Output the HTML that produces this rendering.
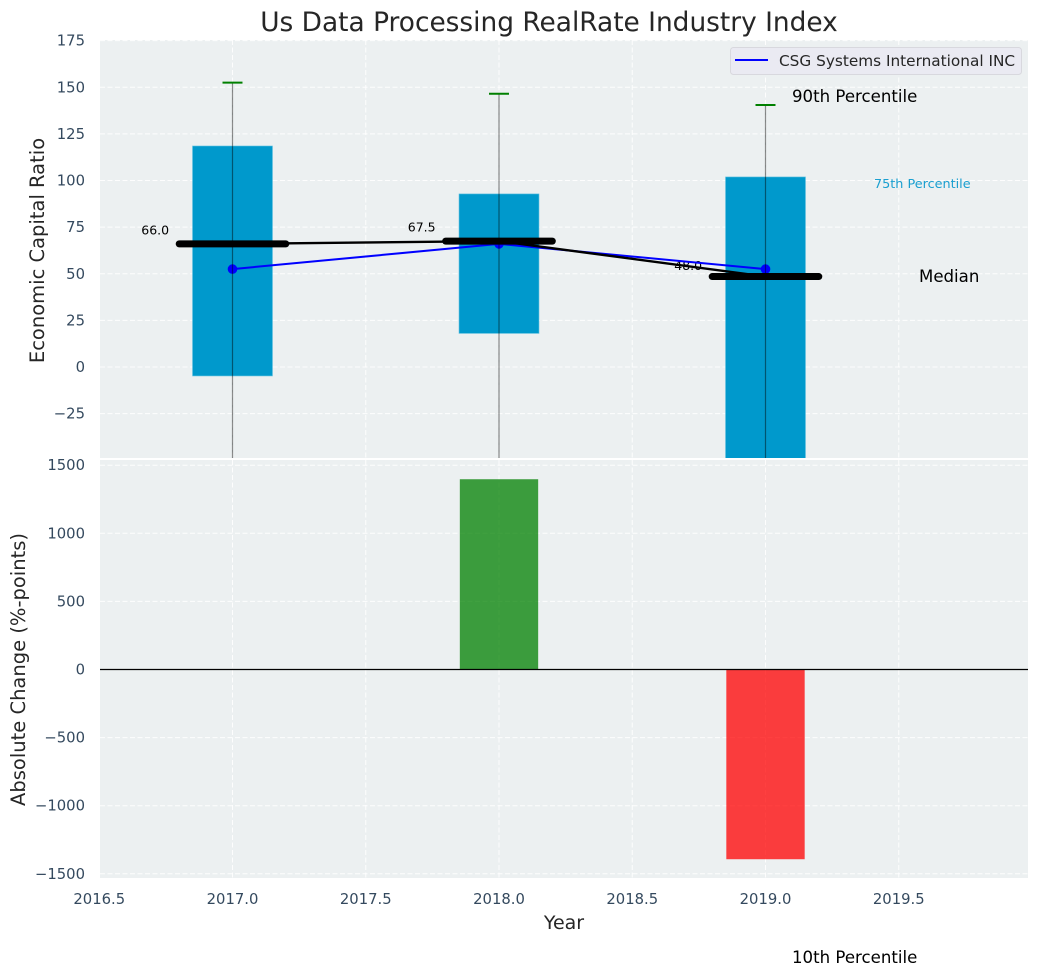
<!DOCTYPE html>
<html lang="en">
<head>
<meta charset="utf-8">
<title>Us Data Processing RealRate Industry Index</title>
<style>
  html, body { margin: 0; padding: 0; background: #ffffff; }
  #chart-wrap { width: 1039px; height: 976px; overflow: hidden; }
  svg { display: block; }
  text { font-family: "DejaVu Sans", "Liberation Sans", sans-serif; }
</style>
</head>
<body>
<div id="chart-wrap">
<svg id="chart" xmlns="http://www.w3.org/2000/svg" width="1039" height="976" viewBox="0 0 1039 976">
  <defs>
    <clipPath id="clip-top"><rect x="100" y="40" width="928" height="418"></rect></clipPath>
    <clipPath id="clip-bottom"><rect x="100" y="460" width="928" height="418"></rect></clipPath>
  </defs>
  <rect x="100" y="40" width="928" height="418" fill="#ecf0f1"></rect>
  <rect x="100" y="460" width="928" height="418" fill="#ecf0f1"></rect>
  <g id="grid"></g>
  <g id="top-marks" clip-path="url(#clip-top)"></g>
  <g id="bottom-marks" clip-path="url(#clip-bottom)"></g>
  <g id="tick-labels"></g>

  <text x="549" y="31" text-anchor="middle" font-size="26.4" fill="#262626">Us Data Processing RealRate Industry Index</text>
  <text transform="translate(44,250.5) rotate(-90)" text-anchor="middle" font-size="19.5" fill="#262626">Economic Capital Ratio</text>
  <text transform="translate(25,669.5) rotate(-90)" text-anchor="middle" font-size="19.5" fill="#262626">Absolute Change (%-points)</text>
  <text x="564" y="929" text-anchor="middle" font-size="19" fill="#262626">Year</text>

  <text x="792" y="102" font-size="16.6" fill="#000000">90th Percentile</text>
  <text x="874" y="188" font-size="12.8" fill="#1a9fd0">75th Percentile</text>
  <text x="919" y="282" font-size="16.6" fill="#000000">Median</text>
  <text x="792" y="963" font-size="16.6" fill="#000000">10th Percentile</text>

  <g>
    <rect x="730.5" y="47.5" width="291" height="27" rx="3" ry="3" fill="#eaeaf2" stroke="#d8d8de" stroke-width="1"></rect>
    <line x1="735" y1="60" x2="768" y2="60" stroke="#0000ff" stroke-width="2"></line>
    <text x="779" y="66" font-size="15.3" fill="#262626">CSG Systems International INC</text>
  </g>
</svg>
</div>
<script>
const years = [2017, 2018, 2019];
const p90 = [152.5, 146.5, 140.5];
const p75 = [118.5, 92.8, 101.9];
const p25 = [-4.8, 18, -70];
const p10 = [-70, -70, -70];
const medians = [66, 67.5, 48.5];
const medianLabels = ["66.0", "67.5", "48.0"];
const companyValues = [52.5, 66, 52.5];
const changeYears = [2018, 2019];
const changeValues = [1397, -1393];
const xTicks = [2016.5, 2017, 2017.5, 2018, 2018.5, 2019, 2019.5];
const xTickLabels = ["2016.5", "2017.0", "2017.5", "2018.0", "2018.5", "2019.0", "2019.5"];
const topYTicks = [175, 150, 125, 100, 75, 50, 25, 0, -25];
const topYTickLabels = ["175", "150", "125", "100", "75", "50", "25", "0", "\u221225"];
const bottomYTicks = [1500, 1000, 500, 0, -500, -1000, -1500];
const bottomYTickLabels = ["1500", "1000", "500", "0", "\u2212500", "\u22121000", "\u22121500"];

const NS = "http://www.w3.org/2000/svg";
const xScale = v => 232.5 + (v - 2017) * 266.5;
const yTop = v => 367 - v * 1.865;
const yBottom = v => 669.5 - v * 0.1362;
const PX_PER_YEAR = 266.5;
const TICK_FONT = 14.8;

function make(tag, attrs, parent) {
  const el = document.createElementNS(NS, tag);
  Object.keys(attrs).forEach(k => el.setAttribute(k, attrs[k]));
  parent.appendChild(el);
  return el;
}

const grid = document.getElementById("grid");
const topMarks = document.getElementById("top-marks");
const bottomMarks = document.getElementById("bottom-marks");
const tickLabels = document.getElementById("tick-labels");
const dash = { stroke: "#ffffff", "stroke-width": 1, "stroke-dasharray": "5 2.5", opacity: 0.9 };

xTicks.forEach((t, i) => {
  const x = xScale(t);
  const a = make("line", Object.assign({ x1: x, x2: x, y1: 40, y2: 458 }, dash), grid);
  
  
  const b = make("line", Object.assign({ x1: x, x2: x, y1: 460, y2: 878 }, dash), grid);
  
  
  const lab = make("text", { x: x, y: 904, "text-anchor": "middle", "font-size": TICK_FONT, fill: "#34495e" }, tickLabels);
  lab.textContent = xTickLabels[i];
  
  
});

topYTicks.forEach((t, i) => {
  const y = yTop(t);
  const a = make("line", Object.assign({ x1: 100, x2: 1028, y1: y, y2: y }, dash), grid);
  
  
  const lab = make("text", { x: 85, y: y + 5, "text-anchor": "end", "font-size": TICK_FONT, fill: "#34495e" }, tickLabels);
  lab.textContent = topYTickLabels[i];
  
  
});

bottomYTicks.forEach((t, i) => {
  const y = yBottom(t);
  const a = make("line", Object.assign({ x1: 100, x2: 1028, y1: y, y2: y }, dash), grid);
  
  
  const lab = make("text", { x: 85, y: y + 5, "text-anchor": "end", "font-size": TICK_FONT, fill: "#34495e" }, tickLabels);
  lab.textContent = bottomYTickLabels[i];
  
  
});

/* interquartile boxes */
years.forEach((yr, i) => {
  const x = xScale(yr - 0.15);
  const box = make("rect", {
    x: x, width: 0.3 * PX_PER_YEAR,
    y: yTop(p75[i]), height: yTop(p25[i]) - yTop(p75[i]),
    fill: "#0099cc", stroke: "#5fc0df", "stroke-width": 0.6
  }, topMarks);
  
  
});

/* median value labels sit beneath the lines */
years.forEach((yr, i) => {
  const lift = medians[i] > 60 ? 7.5 : 6;
  const lab = make("text", {
    x: xScale(yr - 0.29), y: yTop(medians[i] + lift) + 4.5,
    "text-anchor": "middle", "font-size": 12.5, fill: "#000000"
  }, topMarks);
  lab.textContent = medianLabels[i];
  
  
});

/* company series */
const companyLine = make("polyline", {
  points: years.map((yr, i) => xScale(yr) + "," + yTop(companyValues[i])).join(" "),
  fill: "none", stroke: "#0000ff", "stroke-width": 2
}, topMarks);



years.forEach((yr, i) => {
  const pt = make("circle", { cx: xScale(yr), cy: yTop(companyValues[i]), r: 4.8, fill: "#0000ff" }, topMarks);
  
  
});

/* whiskers and caps */
years.forEach((yr, i) => {
  const x = xScale(yr);
  const whisker = make("line", {
    x1: x, x2: x, y1: yTop(p90[i]), y2: yTop(p10[i]),
    stroke: "#000000", "stroke-opacity": 0.45, "stroke-width": 1.2
  }, topMarks);
  
  
  const cap = make("line", {
    x1: xScale(yr - 0.0375), x2: xScale(yr + 0.0375), y1: yTop(p90[i]), y2: yTop(p90[i]),
    stroke: "#008000", "stroke-width": 2
  }, topMarks);
  
  
});

/* median trend and thick median bars */
const medianLine = make("polyline", {
  points: years.map((yr, i) => xScale(yr) + "," + yTop(medians[i])).join(" "),
  fill: "none", stroke: "#000000", "stroke-width": 2.4
}, topMarks);



years.forEach((yr, i) => {
  const bar = make("line", {
    x1: xScale(yr - 0.2), x2: xScale(yr + 0.2), y1: yTop(medians[i]), y2: yTop(medians[i]),
    stroke: "#000000", "stroke-width": 7, "stroke-linecap": "round"
  }, topMarks);
  
  
});

/* absolute change bars */
changeYears.forEach((yr, i) => {
  const v = changeValues[i];
  const top = Math.min(yBottom(v), yBottom(0));
  const h = Math.abs(yBottom(v) - yBottom(0));
  const bar = make("rect", {
    x: xScale(yr - 0.147), width: 0.294 * PX_PER_YEAR, y: top, height: h,
    fill: v >= 0 ? "#008000" : "#ff0000", "fill-opacity": 0.75
  }, bottomMarks);
  
  
});

const zeroLine = make("line", { x1: 100, x2: 1028, y1: yBottom(0), y2: yBottom(0), stroke: "#000000", "stroke-width": 1.2 }, bottomMarks);


</script>
</body>
</html>
